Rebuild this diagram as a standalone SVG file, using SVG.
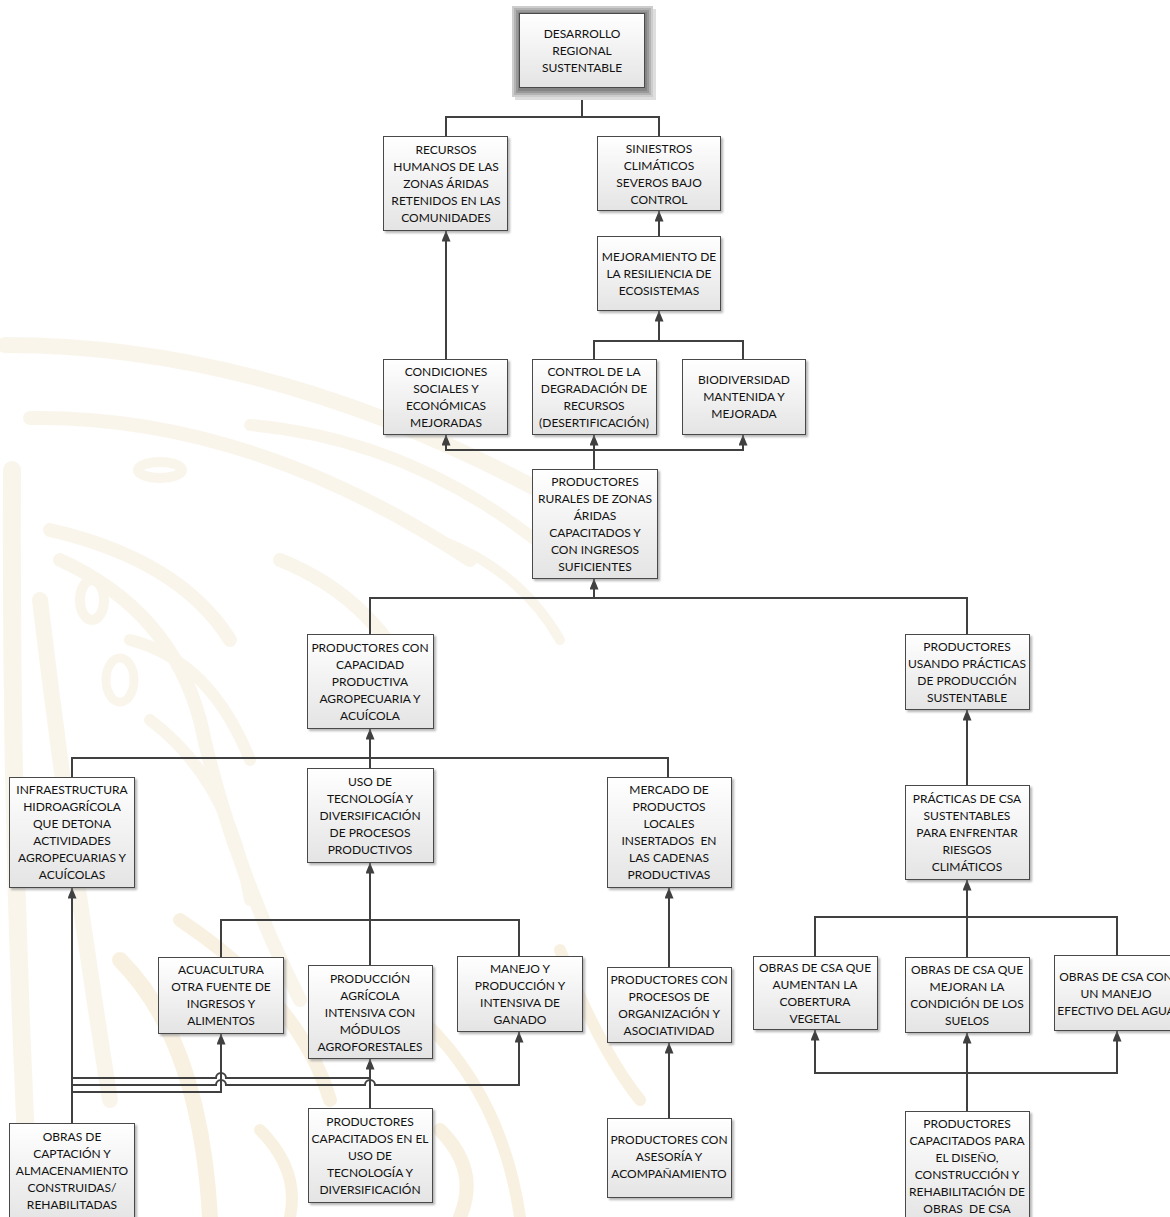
<svg xmlns="http://www.w3.org/2000/svg" width="1170" height="1217" viewBox="0 0 1170 1217">
  <defs>
    <linearGradient id="boxFill" x1="0" y1="0" x2="0" y2="1">
      <stop offset="0" stop-color="#ffffff"/>
      <stop offset="1" stop-color="#e4e4e4"/>
    </linearGradient>
    <filter id="shadow" x="-10%" y="-10%" width="130%" height="130%">
      <feDropShadow dx="2" dy="2" stdDeviation="0.8" flood-color="#7a7a7a" flood-opacity="0.55"/>
    </filter>
    <marker id="arrow" viewBox="0 0 11 9" refX="10.5" refY="4.5" markerWidth="11" markerHeight="9" markerUnits="userSpaceOnUse" orient="auto">
      <path d="M0,0 L11,4.5 L0,9 z" fill="#404040"/>
    </marker>
    <style>
      .box { fill: url(#boxFill); stroke: #4a4a4a; stroke-width: 1; filter: url(#shadow); }
      .lbl { font-family: "Lato", "Liberation Sans", sans-serif; font-size: 12px; fill: #111111; text-anchor: middle; }
      .wire { fill: none; stroke: #404040; stroke-width: 2; }
      .arr { marker-end: url(#arrow); }
      .wm { fill: none; stroke: #f3e9d4; stroke-linecap: round; }
      .wm2 { fill: none; stroke: #f1e2bf; stroke-linecap: round; }
    </style>
  </defs>

  <rect width="1170" height="1217" fill="#ffffff"/>

  <!-- faint background emblem -->
  <g id="watermark" opacity="0.45">
    <path class="wm" stroke-width="16" d="M5,345 Q300,345 610,530"/>
    <path class="wm" stroke-width="14" d="M30,418 Q250,415 470,560"/>
    <path class="wm" stroke-width="12" d="M250,425 Q420,440 560,560"/>
    <path class="wm" stroke-width="18" d="M12,470 Q10,850 30,1217"/>
    <path class="wm" stroke-width="14" d="M50,530 Q180,560 230,640"/>
    <path class="wm" stroke-width="16" d="M40,600 Q70,850 110,1100"/>
    <path class="wm" stroke-width="14" d="M60,560 Q170,610 200,720 Q230,860 300,1000"/>
    <path class="wm" stroke-width="12" d="M130,640 Q210,660 250,760"/>
    <path class="wm" stroke-width="14" d="M280,560 Q380,600 420,700"/>
    <path class="wm" stroke-width="12" d="M150,720 Q230,780 250,900"/>
    <path class="wm" stroke-width="10" d="M440,540 Q520,570 560,640"/>
    <ellipse class="wm" stroke-width="10" cx="160" cy="470" rx="22" ry="8"/>
    <ellipse class="wm" stroke-width="10" cx="92" cy="600" rx="12" ry="20"/>
    <ellipse class="wm" stroke-width="9" cx="120" cy="680" rx="14" ry="22"/>
    <path class="wm2" stroke-width="16" d="M120,960 Q200,1040 210,1217"/>
    <path class="wm2" stroke-width="14" d="M180,920 Q300,1000 330,1100"/>
    <path class="wm2" stroke-width="12" d="M400,1000 Q500,1080 520,1217"/>
    <path class="wm2" stroke-width="12" d="M560,950 Q600,1050 640,1100"/>
    <path class="wm2" stroke-width="12" d="M260,1130 Q300,1170 290,1217"/>
    <path class="wm2" stroke-width="14" d="M440,1130 Q480,1170 460,1217"/>
  </g>

  <!-- connectors -->
  <g id="connectors">
    <path class="wire" d="M446,136 V117 H659 V136"/>
    <path class="wire arr" d="M582,117 V88"/>
    <path class="wire arr" d="M446,359 V231"/>
    <path class="wire arr" d="M659,236 V211"/>
    <path class="wire" d="M594,359 V341 H743 V359"/>
    <path class="wire arr" d="M659,341 V311"/>
    <path class="wire arr" d="M594,469 V450 H446 V435"/>
    <path class="wire arr" d="M594,450 V435"/>
    <path class="wire arr" d="M594,450 H743 V435"/>
    <path class="wire" d="M370,634 V598 H967 V634"/>
    <path class="wire arr" d="M594,598 V579"/>
    <path class="wire arr" d="M370,768 V729"/>
    <path class="wire" d="M72,777 V758 H668 V777"/>
    <path class="wire arr" d="M967,785 V710"/>
    <path class="wire" d="M221,957 V920 H519 V956"/>
    <path class="wire" d="M370,920 V965"/>
    <path class="wire arr" d="M370,920 V863"/>
    <path class="wire arr" d="M669,967 V888"/>
    <path class="wire arr" d="M669,1118 V1043"/>
    <path class="wire" d="M815,956 V917 H1117 V955"/>
    <path class="wire arr" d="M967,957 V880"/>
    <path class="wire arr" d="M967,1111 V1033"/>
    <path class="wire arr" d="M967,1073 H815 V1030"/>
    <path class="wire arr" d="M967,1073 H1117 V1031"/>
    <path class="wire arr" d="M72,1123 V888"/>
    <path class="wire arr" d="M72,1092 H221 V1034"/>
    <path class="wire" d="M72,1078 H216 a5,5 0 0 1 10,0 H370"/>
    <path class="wire arr" d="M72,1085 H216 a5,5 0 0 1 10,0 H365 a5,5 0 0 1 10,0 H519 V1032"/>
    <path class="wire arr" d="M370,1108 V1059"/>
  </g>

  <!-- nodes -->
  <g id="n-desarrollo">
    <rect x="515" y="9" width="141" height="91" fill="#dedede"/>
    <rect x="512" y="6" width="141" height="91" fill="#cdcdcd"/>
    <rect x="514" y="8" width="137" height="87" fill="#b3b3b3"/>
    <rect x="516" y="10" width="133" height="83" fill="#999999"/>
    <rect x="518" y="12" width="129" height="79" fill="#858585"/>
    <rect x="519.5" y="13.5" width="125" height="74" fill="url(#boxFill)" stroke="#4a4a4a"/>
    <text class="lbl"><tspan x="582" y="38">DESARROLLO</tspan><tspan x="582" y="55">REGIONAL</tspan><tspan x="582" y="72">SUSTENTABLE</tspan></text>
  </g>

  <g id="n-recursos">
    <rect class="box" x="383.5" y="136.5" width="124" height="94"/>
    <text class="lbl"><tspan x="446" y="154">RECURSOS</tspan><tspan x="446" y="171">HUMANOS DE LAS</tspan><tspan x="446" y="188">ZONAS ÁRIDAS</tspan><tspan x="446" y="205">RETENIDOS EN LAS</tspan><tspan x="446" y="222">COMUNIDADES</tspan></text>
  </g>

  <g id="n-siniestros">
    <rect class="box" x="597.5" y="136.5" width="123" height="74"/>
    <text class="lbl"><tspan x="659" y="153">SINIESTROS</tspan><tspan x="659" y="170">CLIMÁTICOS</tspan><tspan x="659" y="187">SEVEROS BAJO</tspan><tspan x="659" y="204">CONTROL</tspan></text>
  </g>

  <g id="n-mejoramiento">
    <rect class="box" x="597.5" y="236.5" width="123" height="74"/>
    <text class="lbl"><tspan x="659" y="261">MEJORAMIENTO DE</tspan><tspan x="659" y="278">LA RESILIENCIA DE</tspan><tspan x="659" y="295">ECOSISTEMAS</tspan></text>
  </g>

  <g id="n-condiciones">
    <rect class="box" x="383.5" y="359.5" width="124" height="75"/>
    <text class="lbl"><tspan x="446" y="376">CONDICIONES</tspan><tspan x="446" y="393">SOCIALES Y</tspan><tspan x="446" y="410">ECONÓMICAS</tspan><tspan x="446" y="427">MEJORADAS</tspan></text>
  </g>

  <g id="n-control">
    <rect class="box" x="532.5" y="359.5" width="124" height="75"/>
    <text class="lbl"><tspan x="594" y="376">CONTROL DE LA</tspan><tspan x="594" y="393">DEGRADACIÓN DE</tspan><tspan x="594" y="410">RECURSOS</tspan><tspan x="594" y="427">(DESERTIFICACIÓN)</tspan></text>
  </g>

  <g id="n-biodiversidad">
    <rect class="box" x="682.5" y="359.5" width="123" height="75"/>
    <text class="lbl"><tspan x="744" y="384">BIODIVERSIDAD</tspan><tspan x="744" y="401">MANTENIDA Y</tspan><tspan x="744" y="418">MEJORADA</tspan></text>
  </g>

  <g id="n-rurales">
    <rect class="box" x="532.5" y="469.5" width="125" height="109"/>
    <text class="lbl"><tspan x="595" y="486">PRODUCTORES</tspan><tspan x="595" y="503">RURALES DE ZONAS</tspan><tspan x="595" y="520">ÁRIDAS</tspan><tspan x="595" y="537">CAPACITADOS Y</tspan><tspan x="595" y="554">CON INGRESOS</tspan><tspan x="595" y="571">SUFICIENTES</tspan></text>
  </g>

  <g id="n-capacidad">
    <rect class="box" x="307.5" y="634.5" width="126" height="94"/>
    <text class="lbl"><tspan x="370" y="652">PRODUCTORES CON</tspan><tspan x="370" y="669">CAPACIDAD</tspan><tspan x="370" y="686">PRODUCTIVA</tspan><tspan x="370" y="703">AGROPECUARIA Y</tspan><tspan x="370" y="720">ACUÍCOLA</tspan></text>
  </g>

  <g id="n-usando">
    <rect class="box" x="905.5" y="634.5" width="124" height="75"/>
    <text class="lbl"><tspan x="967" y="651">PRODUCTORES</tspan><tspan x="967" y="668">USANDO PRÁCTICAS</tspan><tspan x="967" y="685">DE PRODUCCIÓN</tspan><tspan x="967" y="702">SUSTENTABLE</tspan></text>
  </g>

  <g id="n-infraestructura">
    <rect class="box" x="9.5" y="777.5" width="125" height="110"/>
    <text class="lbl"><tspan x="72" y="794">INFRAESTRUCTURA</tspan><tspan x="72" y="811">HIDROAGRÍCOLA</tspan><tspan x="72" y="828">QUE DETONA</tspan><tspan x="72" y="845">ACTIVIDADES</tspan><tspan x="72" y="862">AGROPECUARIAS Y</tspan><tspan x="72" y="879">ACUÍCOLAS</tspan></text>
  </g>

  <g id="n-uso-tecnologia">
    <rect class="box" x="307.5" y="768.5" width="126" height="94"/>
    <text class="lbl"><tspan x="370" y="786">USO DE</tspan><tspan x="370" y="803">TECNOLOGÍA Y</tspan><tspan x="370" y="820">DIVERSIFICACIÓN</tspan><tspan x="370" y="837">DE PROCESOS</tspan><tspan x="370" y="854">PRODUCTIVOS</tspan></text>
  </g>

  <g id="n-mercado">
    <rect class="box" x="607.5" y="777.5" width="124" height="110"/>
    <text class="lbl"><tspan x="669" y="794">MERCADO DE</tspan><tspan x="669" y="811">PRODUCTOS</tspan><tspan x="669" y="828">LOCALES</tspan><tspan x="669" y="845" xml:space="preserve">INSERTADOS  EN</tspan><tspan x="669" y="862">LAS CADENAS</tspan><tspan x="669" y="879">PRODUCTIVAS</tspan></text>
  </g>

  <g id="n-practicas">
    <rect class="box" x="905.5" y="785.5" width="124" height="94"/>
    <text class="lbl"><tspan x="967" y="803">PRÁCTICAS DE CSA</tspan><tspan x="967" y="820">SUSTENTABLES</tspan><tspan x="967" y="837">PARA ENFRENTAR</tspan><tspan x="967" y="854">RIESGOS</tspan><tspan x="967" y="871">CLIMÁTICOS</tspan></text>
  </g>

  <g id="n-acuacultura">
    <rect class="box" x="158.5" y="957.5" width="125" height="76"/>
    <text class="lbl"><tspan x="221" y="974">ACUACULTURA</tspan><tspan x="221" y="991">OTRA FUENTE DE</tspan><tspan x="221" y="1008">INGRESOS Y</tspan><tspan x="221" y="1025">ALIMENTOS</tspan></text>
  </g>

  <g id="n-produccion">
    <rect class="box" x="308.5" y="965.5" width="124" height="93"/>
    <text class="lbl"><tspan x="370" y="983">PRODUCCIÓN</tspan><tspan x="370" y="1000">AGRÍCOLA</tspan><tspan x="370" y="1017">INTENSIVA CON</tspan><tspan x="370" y="1034">MÓDULOS</tspan><tspan x="370" y="1051">AGROFORESTALES</tspan></text>
  </g>

  <g id="n-manejo">
    <rect class="box" x="457.5" y="956.5" width="125" height="75"/>
    <text class="lbl"><tspan x="520" y="973">MANEJO Y</tspan><tspan x="520" y="990">PRODUCCIÓN Y</tspan><tspan x="520" y="1007">INTENSIVA DE</tspan><tspan x="520" y="1024">GANADO</tspan></text>
  </g>

  <g id="n-procesos">
    <rect class="box" x="607.5" y="967.5" width="124" height="75"/>
    <text class="lbl"><tspan x="669" y="984">PRODUCTORES CON</tspan><tspan x="669" y="1001">PROCESOS DE</tspan><tspan x="669" y="1018">ORGANIZACIÓN Y</tspan><tspan x="669" y="1035">ASOCIATIVIDAD</tspan></text>
  </g>

  <g id="n-cobertura">
    <rect class="box" x="753.5" y="956.5" width="124" height="73"/>
    <text class="lbl"><tspan x="815" y="972">OBRAS DE CSA QUE</tspan><tspan x="815" y="989">AUMENTAN LA</tspan><tspan x="815" y="1006">COBERTURA</tspan><tspan x="815" y="1023">VEGETAL</tspan></text>
  </g>

  <g id="n-suelos">
    <rect class="box" x="905.5" y="957.5" width="124" height="75"/>
    <text class="lbl"><tspan x="967" y="974">OBRAS DE CSA QUE</tspan><tspan x="967" y="991">MEJORAN LA</tspan><tspan x="967" y="1008">CONDICIÓN DE LOS</tspan><tspan x="967" y="1025">SUELOS</tspan></text>
  </g>

  <g id="n-agua">
    <rect class="box" x="1054.5" y="955.5" width="124" height="75"/>
    <text class="lbl"><tspan x="1116" y="981">OBRAS DE CSA CON</tspan><tspan x="1116" y="998">UN MANEJO</tspan><tspan x="1116" y="1015">EFECTIVO DEL AGUA</tspan></text>
  </g>

  <g id="n-captacion">
    <rect class="box" x="9.5" y="1123.5" width="125" height="100"/>
    <text class="lbl"><tspan x="72" y="1141">OBRAS DE</tspan><tspan x="72" y="1158">CAPTACIÓN Y</tspan><tspan x="72" y="1175">ALMACENAMIENTO</tspan><tspan x="72" y="1192">CONSTRUIDAS/</tspan><tspan x="72" y="1209">REHABILITADAS</tspan></text>
  </g>

  <g id="n-capacitados-uso">
    <rect class="box" x="308.5" y="1108.5" width="124" height="94"/>
    <text class="lbl"><tspan x="370" y="1126">PRODUCTORES</tspan><tspan x="370" y="1143">CAPACITADOS EN EL</tspan><tspan x="370" y="1160">USO DE</tspan><tspan x="370" y="1177">TECNOLOGÍA Y</tspan><tspan x="370" y="1194">DIVERSIFICACIÓN</tspan></text>
  </g>

  <g id="n-asesoria">
    <rect class="box" x="607.5" y="1118.5" width="124" height="79"/>
    <text class="lbl"><tspan x="669" y="1144">PRODUCTORES CON</tspan><tspan x="669" y="1161">ASESORÍA Y</tspan><tspan x="669" y="1178">ACOMPAÑAMIENTO</tspan></text>
  </g>

  <g id="n-capacitados-obras">
    <rect class="box" x="905.5" y="1111.5" width="124" height="112"/>
    <text class="lbl"><tspan x="967" y="1128">PRODUCTORES</tspan><tspan x="967" y="1145">CAPACITADOS PARA</tspan><tspan x="967" y="1162">EL DISEÑO,</tspan><tspan x="967" y="1179">CONSTRUCCIÓN Y</tspan><tspan x="967" y="1196">REHABILITACIÓN DE</tspan><tspan x="967" y="1213" xml:space="preserve">OBRAS  DE CSA</tspan></text>
  </g>
</svg>
